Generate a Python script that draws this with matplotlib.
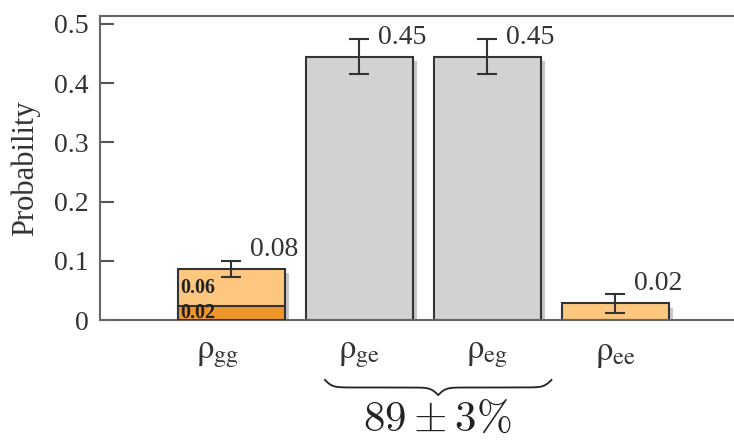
import numpy as np
import matplotlib
matplotlib.use("Agg")
import matplotlib.pyplot as plt
import matplotlib.patheffects as pe
from matplotlib.transforms import blended_transform_factory, ScaledTranslation

# data
states = ["gg", "ge", "eg", "ee"]
probs = [0.086, 0.445, 0.445, 0.028]
errs = [0.014, 0.030, 0.030, 0.016]
value_labels = ["0.08", "0.45", "0.45", "0.02"]
# rho_gg split into two parts
gg_parts = [0.0236, 0.0624]
gg_part_labels = ["0.02", "0.06"]
total_text = r"$89\pm3\%$"
yticks = [0, 0.1, 0.2, 0.3, 0.4, 0.5]

light_orange = "#fdc77f"
dark_orange = "#f0972b"
grey = "#d1d2d4"
bar_colors = [light_orange, grey, grey, light_orange]

plt.rcParams["font.family"] = ["Liberation Serif", "DejaVu Serif"]
plt.rcParams["mathtext.fontset"] = "stix"

fig = plt.figure(figsize=(7.34, 4.42), dpi=100)
ax = fig.add_axes([100 / 734, 122 / 442, 634 / 734, 304 / 442])

x = np.arange(len(states))
shadow = [pe.SimplePatchShadow(offset=(3, -3), shadow_rgbFace="k", alpha=0.22), pe.Normal()]

bars = ax.bar(x, probs, width=0.84, color=bar_colors, edgecolor="#333333", linewidth=1.5, zorder=2)
for b in bars:
    b.set_path_effects(shadow)

# darker lower part of rho_gg
ax.bar(x[0], gg_parts[0], width=0.84, color=dark_orange, edgecolor="#333333", linewidth=1.5, zorder=3)

ax.errorbar(x, probs, yerr=errs, fmt="none", ecolor="#333333", elinewidth=1.5,
            capsize=7, capthick=1.5, zorder=4)

for xi, p, lab in zip(x, probs, value_labels):
    ax.annotate(lab, (xi, p), xytext=(13, 14), textcoords="offset points",
                ha="left", va="center", fontsize=20, color="#333333")

# labels inside the rho_gg bar
bottom = 0
for part, lab in zip(gg_parts, gg_part_labels):
    ax.annotate(lab, (x[0] - 0.42, bottom + part / 2), xytext=(1.5, 0), textcoords="offset points",
                ha="left", va="center", fontsize=14.5, fontweight="bold", color="#222222", zorder=5,
                annotation_clip=False)
    bottom += part

ax.set_xlim(-1.027, 3.926)
ax.set_ylim(0, 0.5135)
ax.set_yticks(yticks)
ax.set_yticklabels(["0" if t == 0 else f"{t:.1f}" for t in yticks])
ax.set_xticks(x)
ax.set_xticklabels([r"$\mathrm{\rho_{%s}}$" % s for s in states])
ax.tick_params(axis="y", direction="in", length=10, width=1.5, color="#555555",
               labelsize=20, labelcolor="#333333", pad=8)
ax.tick_params(axis="x", length=0, labelsize=25, labelcolor="#333333", pad=12)
ax.set_ylabel("Probability", fontsize=22, color="#333333", labelpad=10)

# the first category label sits a little left of its bar in the original
lab0 = ax.get_xticklabels()[0]
lab0.set_transform(lab0.get_transform() + ScaledTranslation(-10 / 72, 0, fig.dpi_scale_trans))

for side in ["left", "top", "bottom"]:
    ax.spines[side].set_color("#666666")
    ax.spines[side].set_linewidth(1.5)
ax.spines["right"].set_visible(False)

# curly brace under rho_ge and rho_eg
trans = blended_transform_factory(ax.transData, ax.transAxes)
t = np.linspace(0, 1, 401)
half = t[:201]
beta = 60.0
yh = 1 / (1 + np.exp(-beta * (half - half[0]))) + 1 / (1 + np.exp(-beta * (half - half[-1])))
yb = np.concatenate([yh, yh[-2::-1]])
xb = 0.73 + (2.50 - 0.73) * np.linspace(0, 1, len(yb))
yb = -0.197 - (yb - yb.min()) / (yb.max() - yb.min()) * 0.05
ax.plot(xb, yb, color="#222222", lw=1.3, transform=trans, clip_on=False)

ax.text(1.605, -0.33, total_text, transform=trans, ha="center", va="center",
        fontsize=31, color="#222222", math_fontfamily="cm")

fig.savefig("out.png", dpi=100)
